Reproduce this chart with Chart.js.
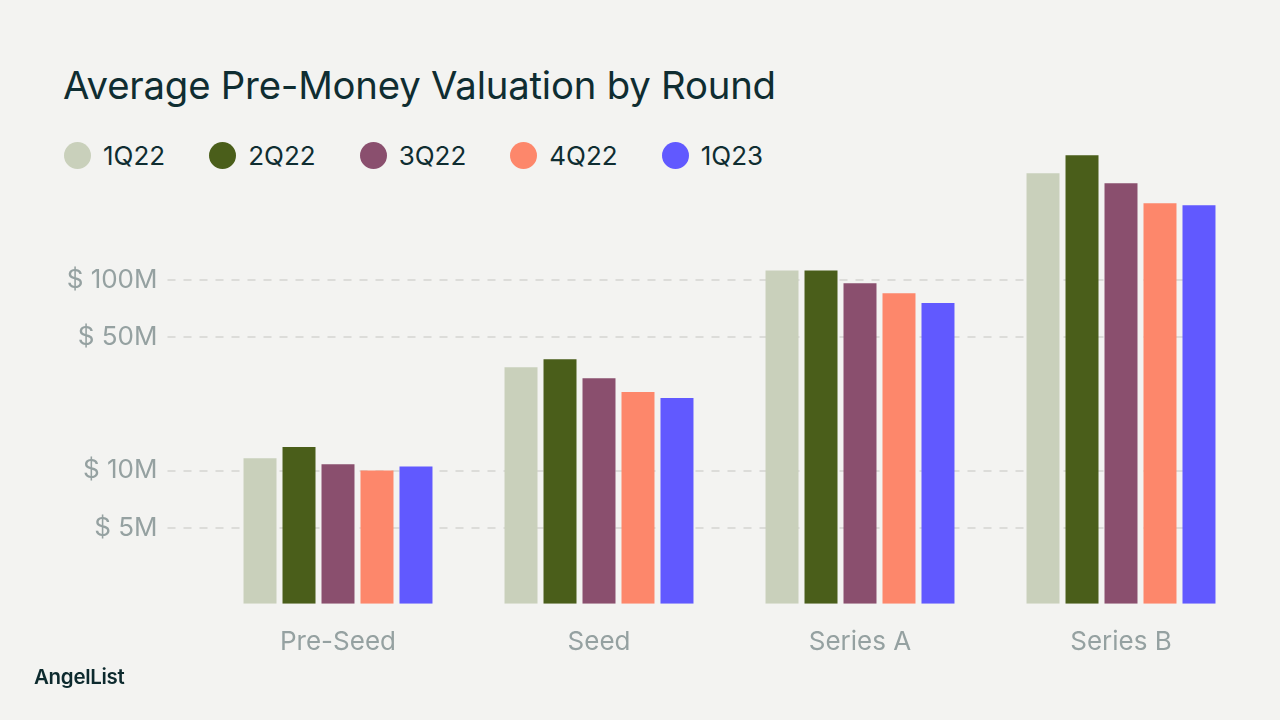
<!DOCTYPE html>
<html>
<head>
<meta charset="utf-8">
<script src="https://cdn.jsdelivr.net/npm/chart.js@4.4.1/dist/chart.umd.min.js"></script>
<style>
  html, body { margin: 0; padding: 0; background: #f3f3f1; }
  #page { position: relative; width: 1280px; height: 720px; overflow: hidden; font-family: "Inter", "Noto Sans", sans-serif; }
  #title { position: absolute; left: 63px; top: 62px; font-size: 38.3px; font-weight: 400; color: #0f2d31; letter-spacing: -0.2px; white-space: nowrap; }
  #legend { position: absolute; left: 64px; top: 140px; display: flex; align-items: center; }
  .item { display: flex; align-items: center; margin-right: 44px; }
  .dot { width: 27px; height: 27px; border-radius: 50%; margin-right: 12px; }
  .lbl { font-size: 26px; color: #0f2d31; }
  #brand { position: absolute; left: 34px; top: 664px; font-size: 20.5px; font-weight: 600; color: #0d2a2e; letter-spacing: -0.3px; }
  canvas { position: absolute; left: 0; top: 0; }
</style>
</head>
<body>
<div id="page">
  <div id="title">Average Pre-Money Valuation by Round</div>
  <div id="legend"></div>
  <canvas id="chart" width="1280" height="720"></canvas>
  <div id="brand">AngelList</div>
</div>
<script>
// Rounds on the x axis, one series per quarter (values in $).
const ROUNDS = ["Pre-Seed", "Seed", "Series A", "Series B"];
const QUARTERS = ["1Q22", "2Q22", "3Q22", "4Q22", "1Q23"];
const COLORS = ["#c9d0bb", "#4a5e1a", "#8a4f6e", "#fd876b", "#6159ff"];

const Q1_22 = [11.6e6, 34.8e6, 112e6, 362e6];
const Q2_22 = [13.3e6, 38.3e6, 112e6, 450e6];
const Q3_22 = [10.8e6, 30.5e6, 96e6, 321e6];
const Q4_22 = [10.0e6, 25.8e6, 85e6, 252e6];
const Q1_23 = [10.5e6, 24.0e6, 75.5e6, 246e6];
const SERIES = [Q1_22, Q2_22, Q3_22, Q4_22, Q1_23];

// Only these ticks are labelled on the log axis.
const Y_TICKS = [5e6, 10e6, 50e6, 100e6];

const TICK_FONT = { family: "'Inter', 'Noto Sans', sans-serif", size: 26 };
const TICK_COLOR = "#95a1a1";

// legend (html, built from the same arrays)
const legendEl = document.getElementById("legend");
QUARTERS.forEach((q, i) => {
    const item = document.createElement("div");
    item.className = "item";
    item.innerHTML = `<span class="dot" style="background:${COLORS[i]}"></span><span class="lbl">${q}</span>`;
    legendEl.appendChild(item);
});

// Dashed value gridlines, drawn behind the bars; they start left of the plot and stop short of the last bar.
const dashedGridPlugin = {
    id: "dashedGrid",
    beforeDatasetsDraw(chart) {
        const { ctx, chartArea, scales } = chart;
        ctx.save();
        ctx.strokeStyle = "#dcdcd9";
        ctx.lineWidth = 2;
        ctx.setLineDash([8, 8]);
        scales.y.ticks.forEach((tick) => {
            const y = Math.round(scales.y.getPixelForValue(tick.value));
            ctx.beginPath();
            ctx.moveTo(chartArea.left - 40, y);
            ctx.lineTo(chartArea.right - 50, y);
            ctx.stroke();
        });
        ctx.restore();
    },
};

const PAD_LEFT = 20;
const PLOT_LEFT = 207.5;

new Chart(document.getElementById("chart").getContext("2d"), {
    type: "bar",
    data: {
        labels: ROUNDS,
        datasets: SERIES.map((data, i) => ({
            label: QUARTERS[i],
            data,
            backgroundColor: COLORS[i],
            borderWidth: 0,
            categoryPercentage: 0.747,
            barPercentage: 0.846,
        })),
    },
    options: {
        responsive: false,
        animation: false,
        devicePixelRatio: 1,
        layout: { padding: { left: PAD_LEFT, right: 28.5, top: 146.5, bottom: 39 } },
        scales: {
            x: {
                grid: { display: false, drawTicks: false },
                border: { display: false },
                ticks: { font: TICK_FONT, color: TICK_COLOR, padding: 23 },
            },
            y: {
                type: "logarithmic",
                min: 2e6,
                max: 5e8,
                grid: { display: false, drawTicks: false },
                border: { display: false },
                afterBuildTicks(scale) {
                    scale.ticks = Y_TICKS.map((value) => ({ value }));
                },
                afterFit(scale) {
                    scale.width = PLOT_LEFT - PAD_LEFT;
                },
                ticks: {
                    font: TICK_FONT,
                    color: TICK_COLOR,
                    padding: 50,
                    autoSkip: false,
                    callback: (value) => "$ " + value / 1e6 + "M",
                },
            },
        },
        plugins: { legend: { display: false }, tooltip: { enabled: false }, title: { display: false } },
    },
    plugins: [dashedGridPlugin],
});
</script>
</body>
</html>
